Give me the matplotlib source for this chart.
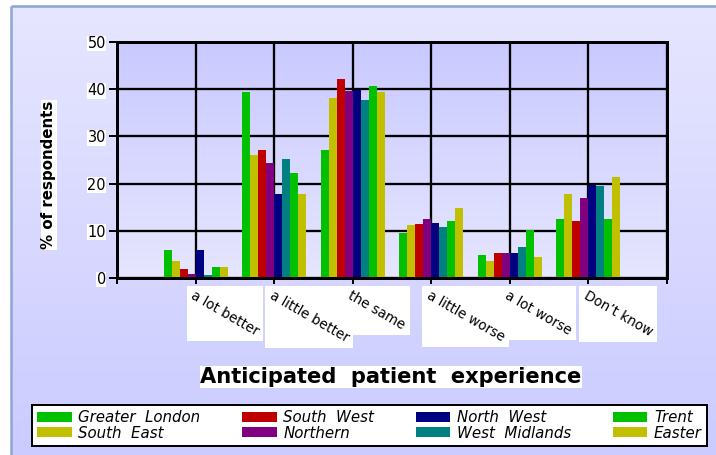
import numpy as np
import matplotlib
matplotlib.use("Agg")
import matplotlib.pyplot as plt
from matplotlib.patches import Rectangle
from matplotlib.transforms import IdentityTransform
from matplotlib.colors import LinearSegmentedColormap

# ---- data -------------------------------------------------------------
categories = ["a lot better", "a little better", "the same",
              "a little worse", "a lot worse", "Don\u2019t know"]
regions = ["Greater  London", "South  East", "South  West", "Northern",
           "North  West", "West  Midlands", "Trent", "Easter"]

greater_london = [6.0, 39.5, 27.2, 9.6, 4.9, 12.6]
south_east = [3.5, 26.1, 38.2, 11.3, 3.5, 17.7]
south_west = [2.0, 27.2, 42.2, 11.5, 5.2, 12.1]
northern = [0.9, 24.4, 39.7, 12.6, 5.4, 17.0]
north_west = [6.0, 17.7, 39.9, 11.7, 5.2, 19.6]
west_midlands = [0.7, 25.3, 37.8, 10.7, 6.6, 19.4]
trent = [2.4, 22.3, 40.7, 12.1, 10.2, 12.6]
easter = [2.4, 17.7, 39.5, 14.9, 4.5, 21.3]

yticks = [0, 10, 20, 30, 40, 50]

series = [greater_london, south_east, south_west, northern,
          north_west, west_midlands, trent, easter]
colors = ["#00C000", "#C0C000", "#C00000", "#800080",
          "#000080", "#008080", "#00C000", "#C0C000"]

# ---- figure -----------------------------------------------------------
W, H = 716, 455
DPI = 100
fig = plt.figure(figsize=(W / DPI, H / DPI), dpi=DPI)
fig.patch.set_facecolor("white")

def px(v):
    return v * 72.0 / DPI

# page background with gradient and thin frame
bg = fig.add_axes([0, 0, 1, 1], zorder=-10)
bg.axis("off")
page_cmap = LinearSegmentedColormap.from_list("page", ["#CBCBFF", "#E6E6FF"])
grad = np.linspace(0, 1, 256).reshape(-1, 1)
bg.imshow(grad, extent=[11, W, 0, H - 6], aspect="auto", cmap=page_cmap,
          origin="lower")
bg.plot([11, 11], [0, H - 6], color="#8CA5D2", lw=px(2.5), solid_capstyle="butt")
bg.plot([11, W], [H - 6, H - 6], color="#8CA5D2", lw=px(2.5), solid_capstyle="butt")
bg.set_xlim(0, W)
bg.set_ylim(0, H)

# plot area
left, right, top, bottom = 117, 667, 42, 278
ax = fig.add_axes([left / W, (H - bottom) / H, (right - left) / W, (bottom - top) / H])
plot_cmap = LinearSegmentedColormap.from_list("plot", ["#E6E6FF", "#C9C9FF"])
ax.imshow(grad, extent=[0, 7, 0, 50], aspect="auto", cmap=plot_cmap,
          origin="lower", zorder=0)
ax.set_xlim(0, 7)
ax.set_ylim(0, 50)

x = np.arange(1, len(categories) + 1)
n = len(series)
width = 0.102
handles = []
for i, (vals, c, name) in enumerate(zip(series, colors, regions)):
    b = ax.bar(x + (i - (n - 1) / 2) * width, vals, width=width, color=c,
               edgecolor="none", label=name, zorder=3)
    handles.append(b)

# grid and axes
ax.set_xticks(range(0, 8))
ax.set_xticklabels([""] + categories + [""])
ax.set_yticks(yticks)
ax.set_yticklabels([str(v) for v in yticks])
ax.grid(True, color="black", lw=px(2.3), zorder=1)
for s in ax.spines.values():
    s.set_color("black")
    s.set_linewidth(px(3))
    s.set_zorder(4)

ax.tick_params(axis="x", direction="out", length=px(6), width=px(2),
               pad=px(4), labelsize=px(13.5))
ax.tick_params(axis="y", direction="out", length=px(8), width=px(2),
               pad=px(3), labelsize=px(14.5))

for lab in ax.get_xticklabels():
    lab.set_rotation(-30)
    lab.set_ha("left")
    lab.set_va("top")
    lab.set_rotation_mode("anchor")
for lab in ax.get_yticklabels():
    lab.set_bbox(dict(facecolor="white", edgecolor="none", pad=0.3))

# axis titles
fig.text(49 / W, 1 - 175 / H, "% of respondents", rotation=90, ha="center",
         va="center", fontsize=px(15), fontweight="bold",
         bbox=dict(facecolor="white", edgecolor="none", pad=0.5))
fig.text(391 / W, 1 - 377 / H, "Anticipated  patient  experience",
         ha="center", va="center", fontsize=px(21), fontweight="bold",
         bbox=dict(facecolor="white", edgecolor="none", pad=0.5))

# legend
leg_x0, leg_x1, leg_y0, leg_y1 = 32, 707, 402, 446
leg = fig.legend(handles=handles, labels=regions, ncol=4, loc="lower left",
                 bbox_to_anchor=(leg_x0 / W, (H - leg_y1) / H,
                                 (leg_x1 - leg_x0) / W, (leg_y1 - leg_y0) / H),
                 mode="expand", frameon=True, fancybox=False, shadow=False,
                 framealpha=1,
                 prop=dict(size=px(15), style="italic"),
                 handlelength=2.3, handleheight=0.65, handletextpad=0.45,
                 labelspacing=0.05, borderpad=0.35, borderaxespad=0,
                 columnspacing=1.5)
leg.get_frame().set_edgecolor("black")
leg.get_frame().set_linewidth(px(2))
leg.get_frame().set_facecolor("white")

# white panels behind the slanted category labels
fig.canvas.draw()
renderer = fig.canvas.get_renderer()
for lab in ax.get_xticklabels():
    if not lab.get_text():
        continue
    bb = lab.get_window_extent(renderer)
    fig.add_artist(Rectangle((bb.x0 - 2, bb.y0 - 3), bb.width + 4, bb.height + 5,
                             transform=IdentityTransform(), facecolor="white",
                             edgecolor="none", zorder=-1))

fig.savefig("out.png", dpi=DPI)
